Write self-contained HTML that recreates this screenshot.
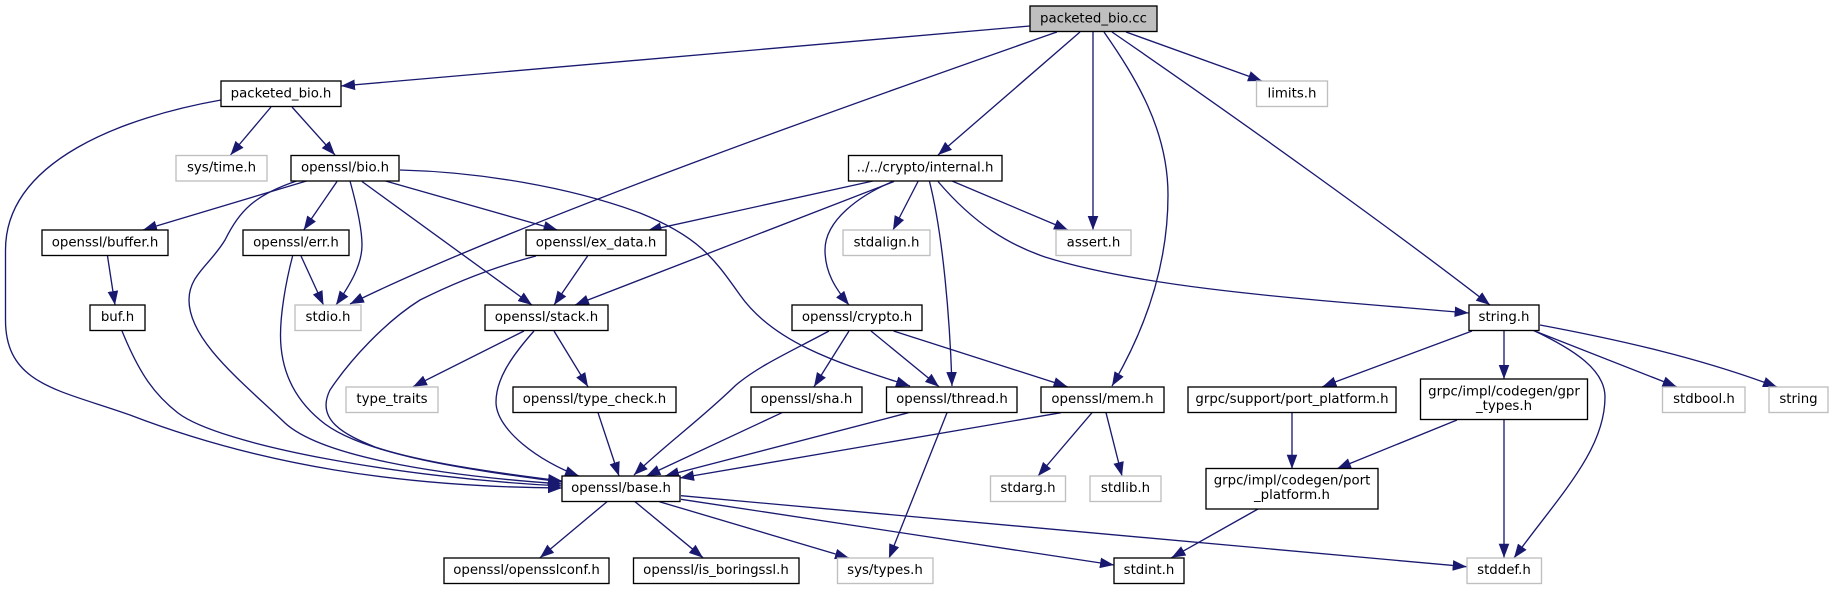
<!DOCTYPE html>
<html><head><meta charset="utf-8"><style>
html,body{margin:0;padding:0;background:#fff;width:1833px;height:589px;overflow:hidden}
svg{display:block}
text{font-family:"DejaVu Sans","Liberation Sans",sans-serif;font-size:13.33px;text-anchor:middle;fill:#000;transform:translateY(-0.5px)}
.e path{fill:none;stroke:#191970;stroke-width:1.33;marker-end:url(#a)}
.n rect{fill:#fff;stroke:#000;stroke-width:1.33}
.g rect{fill:#fff;stroke:#bfbfbf;stroke-width:1.33}
</style></head><body>
<svg width="1833" height="589" viewBox="0 0 1833 589" xmlns="http://www.w3.org/2000/svg">
<defs><marker id="a" markerUnits="userSpaceOnUse" markerWidth="16" markerHeight="12" refX="14" refY="5.5" orient="auto"><path d="M0,0.2 L14,5.5 L0,10.8 Z" fill="#191970"/></marker></defs>
<g class="e">
<path d="M1030,26 L341,86"/>
<path d="M1057,32 C900,87 520,220 350,304"/>
<path d="M1080,32 L938,155"/>
<path d="M1093,32 L1093,230"/>
<path d="M1104,32 C1136,78 1168,130 1168,195 C1168,270 1142,335 1112,386"/>
<path d="M1112,32 C1240,120 1400,235 1490,305"/>
<path d="M1126,32 L1262,81"/>
<path d="M271,107 L230.5,155"/>
<path d="M292,107 L335,155"/>
<path d="M221,100 C125,117 5.5,160 5.5,250 L5.5,320 C5.5,385 60,390 130,415 C260,465 400,487 562,488"/>
<path d="M306.5,181 L143,230"/>
<path d="M296.5,181 C255,195 240,210 225,240 C210,265 189,275 189,300 C189,340 240,380 285,423 C320,455 430,475 562,484"/>
<path d="M337,181.5 L303.7,230"/>
<path d="M350,181 C358,210 362,230 362,245 C362,265 350,285 336,305"/>
<path d="M362,181.5 L532,305"/>
<path d="M385.5,181 L557.5,230"/>
<path d="M400,170 C480,172 570,187 640,213 C700,237 715,260 740,295 C775,345 845,365 910,386"/>
<path d="M107.5,256 L115,305"/>
<path d="M292.6,256 C285,285 280.5,315 280.5,335 C280.5,365 290,395 320,420 C360,455 470,470 562,482"/>
<path d="M301,256 L323.5,305"/>
<path d="M587.6,256 L554,305"/>
<path d="M536,256 C490,268 450,285 420,300 C385,322 350,360 330,390 C315,420 345,435 375,447 C420,462 490,472 562,481"/>
<path d="M873,181 L647.5,230.7"/>
<path d="M894,181.5 L575,305"/>
<path d="M894,181 C860,195 825,220 825,250 C825,272 835,288 849,305"/>
<path d="M918,181.5 L893,230"/>
<path d="M929.5,181.5 C943,235 950,320 952,386"/>
<path d="M938,181.5 C975,225 1010,245 1045,257 C1150,290 1320,300 1468.6,313"/>
<path d="M952,181 L1068,230"/>
<path d="M524,331 L413,386.7"/>
<path d="M534,331 C510,358 496,380 496,402 C496,430 540,462 579,476"/>
<path d="M554,331 L588,386.7"/>
<path d="M598,412.7 L619,476"/>
<path d="M829,331 C790,352 760,365 736,385 C700,420 665,445 634,475"/>
<path d="M849,331 L814,386.7"/>
<path d="M871,331 L939,386.7"/>
<path d="M893.5,331 L1067.5,386.7"/>
<path d="M782,412.7 L646.4,476"/>
<path d="M908.5,412.7 L665,476"/>
<path d="M947,412.7 L889,558.3"/>
<path d="M1061,412.7 L680,478"/>
<path d="M1092,412.7 L1038,476"/>
<path d="M1106,412.7 L1122,476"/>
<path d="M607,501.7 L540,557.7"/>
<path d="M635,501.7 L703,557.7"/>
<path d="M659.4,501.7 L849,558"/>
<path d="M681,499.3 L1114,565"/>
<path d="M681,495.7 L1466.7,566.7"/>
<path d="M1472,331 L1322.4,386.7"/>
<path d="M1504,331 L1504,379"/>
<path d="M1532.7,330 C1575,350 1605,370 1605,397 C1605,450 1560,495 1514,558"/>
<path d="M1534.7,331 L1676.6,386.7"/>
<path d="M1540,325 C1620,340 1700,358 1777,387"/>
<path d="M1292,412 L1292,468.7"/>
<path d="M1457,420 L1337,468.7"/>
<path d="M1504,420 L1504,557.7"/>
<path d="M1258,509 L1171.5,557.7"/>
<path d="M122,331 C140,375 155,395 178,413 C220,445 400,478 562,486"/>
</g>
<g class="n">
<rect x="1030" y="6" width="127" height="25.5" style="fill:#bfbfbf"/><text x="1093.5" y="23">packeted_bio.cc</text>
<rect x="221" y="81" width="120" height="25.5"/><text x="281" y="98">packeted_bio.h</text>
<rect x="291" y="155.5" width="108" height="25.5"/><text x="345" y="172">openssl/bio.h</text>
<rect x="848.5" y="155.5" width="153.5" height="25.5"/><text x="925" y="172">../../crypto/internal.h</text>
<rect x="42" y="230" width="126" height="25.5"/><text x="105" y="247">openssl/buffer.h</text>
<rect x="243" y="230" width="106" height="25.5"/><text x="296" y="247">openssl/err.h</text>
<rect x="526" y="230" width="140" height="25.5"/><text x="596" y="247">openssl/ex_data.h</text>
<rect x="90" y="305" width="55" height="25.5"/><text x="117.5" y="321.5">buf.h</text>
<rect x="485" y="305" width="123" height="25.5"/><text x="546.5" y="321.5">openssl/stack.h</text>
<rect x="792" y="305" width="130" height="25.5"/><text x="857" y="321.5">openssl/crypto.h</text>
<rect x="1469" y="305" width="70" height="25.5"/><text x="1504" y="321.5">string.h</text>
<rect x="513" y="387" width="163" height="25.5"/><text x="594.5" y="403.5">openssl/type_check.h</text>
<rect x="751" y="387" width="111" height="25.5"/><text x="806.5" y="403.5">openssl/sha.h</text>
<rect x="886.5" y="387" width="130.5" height="25.5"/><text x="952" y="403.5">openssl/thread.h</text>
<rect x="1041" y="387" width="123" height="25.5"/><text x="1102.5" y="403.5">openssl/mem.h</text>
<rect x="1188" y="387" width="208" height="25.5"/><text x="1292" y="403.5">grpc/support/port_platform.h</text>
<rect x="1420.5" y="379" width="167" height="40.5"/><text x="1504" y="396">grpc/impl/codegen/gpr</text><text x="1504" y="410.5">_types.h</text>
<rect x="1206" y="468.5" width="172" height="40.5"/><text x="1292" y="485">grpc/impl/codegen/port</text><text x="1292" y="499.5">_platform.h</text>
<rect x="562" y="476" width="118" height="25.5"/><text x="621" y="492.5">openssl/base.h</text>
<rect x="444" y="558" width="165" height="25.5"/><text x="526.5" y="574.5">openssl/opensslconf.h</text>
<rect x="633.5" y="558" width="165.5" height="25.5"/><text x="716" y="574.5">openssl/is_boringssl.h</text>
<rect x="1114" y="558" width="70" height="25.5"/><text x="1149" y="574.5">stdint.h</text>
</g>
<g class="g">
<rect x="176" y="155.5" width="91" height="25.5"/><text x="221.5" y="172">sys/time.h</text>
<rect x="1256.5" y="81" width="71" height="25.5"/><text x="1292" y="98">limits.h</text>
<rect x="843" y="230" width="87" height="25.5"/><text x="886.5" y="247">stdalign.h</text>
<rect x="1056" y="230" width="75" height="25.5"/><text x="1093.5" y="247">assert.h</text>
<rect x="295" y="305" width="66" height="25.5"/><text x="328" y="321.5">stdio.h</text>
<rect x="346" y="387" width="92" height="25.5"/><text x="392" y="403.5">type_traits</text>
<rect x="1662.5" y="387" width="82.5" height="25.5"/><text x="1704" y="403.5">stdbool.h</text>
<rect x="1769" y="387" width="59" height="25.5"/><text x="1798.5" y="403.5">string</text>
<rect x="990.5" y="476" width="75" height="25.5"/><text x="1028" y="492.5">stdarg.h</text>
<rect x="1090" y="476" width="71" height="25.5"/><text x="1125.5" y="492.5">stdlib.h</text>
<rect x="837.5" y="558" width="95.5" height="25.5"/><text x="885" y="574.5">sys/types.h</text>
<rect x="1467" y="558" width="74.5" height="25.5"/><text x="1504" y="574.5">stddef.h</text>
</g>
</svg>
</body></html>
